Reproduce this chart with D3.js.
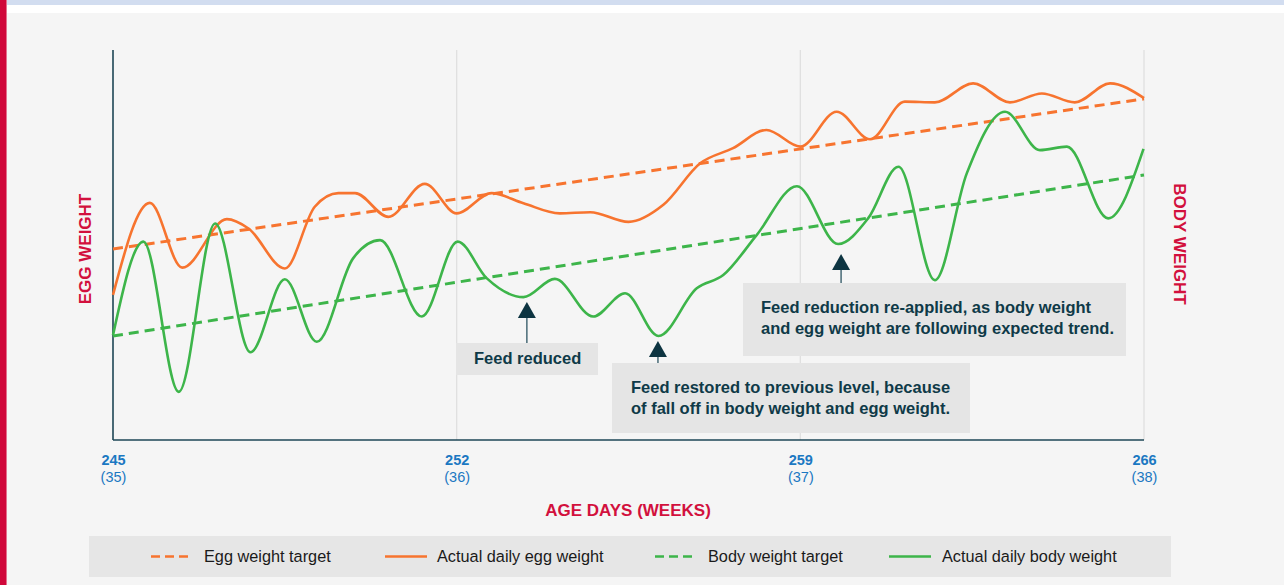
<!DOCTYPE html>
<html>
<head>
<meta charset="utf-8">
<script src="https://cdn.jsdelivr.net/npm/d3@7"></script>
<style>
  html, body { margin: 0; padding: 0; background: #ffffff; }
  svg { display: block; }
  text { font-family: "Liberation Sans", Arial, Helvetica, sans-serif; }
</style>
</head>
<body>
<svg id="chart" width="1287" height="585"></svg>
<script>
// Age in days (x) and relative weight index (y) for each series
const tickDays = [245, 252, 259, 266];

const eggTargetDays = [245, 266];
const eggTargetValues = [48.7, 87.4];

const bodyTargetDays = [245, 266];
const bodyTargetValues = [26.3, 67.8];

const eggDays = [245.0, 245.75, 246.41, 247.32, 247.76, 248.5, 249.11, 249.59, 249.93, 250.61,
  251.35, 252.0, 252.71, 253.36, 254.1, 254.72, 255.5, 256.21, 256.96, 257.63, 258.31, 259.0,
  259.74, 260.42, 261.13, 261.74, 262.52, 263.27, 263.92, 264.59, 265.31, 266.0];
const eggValues = [36.9, 60.6, 43.9, 56.4, 54.0, 43.7, 59.6, 63.1, 63.1, 57.0,
  65.5, 57.9, 63.1, 60.5, 57.9, 58.2, 55.7, 60.1, 70.8, 74.7, 79.4, 75.1,
  84.1, 77.0, 86.7, 86.5, 91.4, 86.5, 88.8, 86.5, 91.4, 87.6];

const bodyDays = [245.0, 245.62, 246.34, 247.08, 247.8, 248.5, 249.15, 249.89, 250.44, 251.29,
  252.02, 252.61, 253.36, 254.0, 254.78, 255.43, 256.11, 256.89, 257.43, 258.11, 258.93,
  259.77, 260.38, 261.0, 261.74, 262.39, 263.17, 263.88, 264.43, 265.27, 265.99];
const bodyValues = [26.5, 50.6, 11.9, 55.3, 22.1, 40.9, 24.8, 46.3, 51.0, 31.3,
  50.6, 41.2, 36.3, 41.0, 31.3, 37.3, 26.3, 38.6, 42.0, 52.3, 64.9,
  50.0, 56.6, 69.9, 40.7, 68.2, 84.1, 74.2, 75.1, 56.6, 74.5];

const seriesNames = ["Egg weight target", "Actual daily egg weight", "Body weight target", "Actual daily body weight"];

// callouts: arrow tip position (day, value) and text lines
const annotations = [
  { day: 253.43, value: 35.05, lines: ["Feed reduced"] },
  { day: 256.1, value: 25.0, lines: ["Feed restored to previous level, because", "of fall off in body weight and egg weight."] },
  { day: 259.83, value: 47.4, lines: ["Feed reduction re-applied, as body weight", "and egg weight are following expected trend."] }
];

const ORANGE = "#f7742f";
const GREEN = "#3db54a";
const CRIMSON = "#d2103d";
const BLUE = "#1b78c2";
const INK = "#0f3a48";

const svg = d3.select("#chart");

// page frame
svg.append("rect").attr("x", 0).attr("y", 0).attr("width", 1287).attr("height", 585).attr("fill", "#ffffff");
svg.append("rect").attr("x", 0).attr("y", 0).attr("width", 1284).attr("height", 5).attr("fill", "#d2ddf0");
svg.append("rect").attr("x", 6).attr("y", 13).attr("width", 1278).attr("height", 572).attr("fill", "#f5f5f5");
svg.append("rect").attr("x", 0).attr("y", 0).attr("width", 6).attr("height", 585).attr("fill", "#d0073a");
svg.append("rect").attr("x", 6).attr("y", 0).attr("width", 1).attr("height", 585).attr("fill", "#e4718e");

const plotLeft = 113, plotRight = 1144, plotTop = 50, plotBottom = 440;

const x = d3.scaleLinear().domain([245, 266]).range([plotLeft, plotRight]);
const y = d3.scaleLinear().domain([0, 100]).range([438, 50]);

// vertical grid lines
svg.append("g").selectAll("line")
  .data(tickDays.slice(1))
  .join("line")
  .attr("x1", d => x(d)).attr("x2", d => x(d))
  .attr("y1", plotTop).attr("y2", plotBottom)
  .attr("stroke", "#dedede").attr("stroke-width", 1.2);

// left axis and baseline
svg.append("line").attr("x1", plotLeft).attr("x2", plotLeft).attr("y1", plotTop).attr("y2", plotBottom)
  .attr("stroke", "#1d4656").attr("stroke-width", 1.6);
svg.append("line").attr("x1", plotLeft).attr("x2", plotRight).attr("y1", plotBottom).attr("y2", plotBottom)
  .attr("stroke", "#1d4656").attr("stroke-width", 1.6);

// x axis tick labels: day on top, week below
const xAxis = d3.axisBottom(x).tickValues(tickDays).tickSize(0).tickFormat("");
const gx = svg.append("g").attr("transform", `translate(0,${plotBottom})`).call(xAxis);
gx.select(".domain").remove();
gx.selectAll(".tick").each(function(d) {
  const t = d3.select(this).append("text").attr("text-anchor", "middle").attr("fill", BLUE).attr("font-size", 14.5);
  t.append("tspan").attr("x", 0).attr("y", 25).attr("font-weight", "bold").text(d);
  t.append("tspan").attr("x", 0).attr("y", 42).text(`(${d / 7})`);
});

// axis titles
svg.append("text").attr("x", 628).attr("y", 516).attr("text-anchor", "middle")
  .attr("fill", CRIMSON).attr("font-size", 17).attr("font-weight", "bold").text("AGE DAYS (WEEKS)");
svg.append("text").attr("transform", "translate(91,249) rotate(-90)").attr("text-anchor", "middle")
  .attr("fill", CRIMSON).attr("font-size", 17).attr("font-weight", "bold").text("EGG WEIGHT");
svg.append("text").attr("transform", "translate(1174,244) rotate(90)").attr("text-anchor", "middle")
  .attr("fill", CRIMSON).attr("font-size", 17).attr("font-weight", "bold").text("BODY WEIGHT");

// series lines
const line = d3.line().x(d => x(d[0])).y(d => y(d[1]));
const smooth = d3.line().x(d => x(d[0])).y(d => y(d[1])).curve(d3.curveMonotoneX);
const zip = (a, b) => a.map((v, i) => [v, b[i]]);

const g = svg.append("g").attr("fill", "none");
g.append("path").datum(zip(bodyTargetDays, bodyTargetValues)).attr("d", line)
  .attr("stroke", GREEN).attr("stroke-width", 3).attr("stroke-dasharray", "10,6");
g.append("path").datum(zip(eggTargetDays, eggTargetValues)).attr("d", line)
  .attr("stroke", ORANGE).attr("stroke-width", 3).attr("stroke-dasharray", "10,6");
g.append("path").datum(zip(eggDays, eggValues)).attr("d", smooth)
  .attr("stroke", ORANGE).attr("stroke-width", 2.6).attr("stroke-linejoin", "round");
g.append("path").datum(zip(bodyDays, bodyValues)).attr("d", smooth)
  .attr("stroke", GREEN).attr("stroke-width", 2.6).attr("stroke-linejoin", "round");

// annotation callouts: arrow pointing at the curve, text box below
const boxes = [
  { x0: 456, y0: 343, w: 142, h: 32, tx: 474, ty: 364 },
  { x0: 612, y0: 363, w: 358, h: 70, tx: 631, ty: 393 },
  { x0: 743, y0: 283, w: 383, h: 73, tx: 761, ty: 313 }
];
annotations.forEach((a, i) => {
  const b = boxes[i];
  const ax = x(a.day), tipY = y(a.value);
  svg.append("line").attr("x1", ax).attr("x2", ax).attr("y1", tipY + 14).attr("y2", b.y0)
    .attr("stroke", "#3a5f6c").attr("stroke-width", 1.4);
  svg.append("path").attr("d", `M${ax},${tipY} L${ax - 9},${tipY + 16} L${ax + 9},${tipY + 16} Z`)
    .attr("fill", "#0d3441");
  svg.append("rect").attr("x", b.x0).attr("y", b.y0).attr("width", b.w).attr("height", b.h).attr("fill", "#e5e5e5");
  const t = svg.append("text").attr("fill", INK).attr("font-size", 16.5).attr("font-weight", "bold");
  a.lines.forEach((s, k) => t.append("tspan").attr("x", b.tx).attr("y", b.ty + k * 21).text(s));
});

// legend
svg.append("rect").attr("x", 89).attr("y", 536).attr("width", 1082).attr("height", 41).attr("fill", "#e6e6e6");
const legendItems = [
  { name: seriesNames[0], color: ORANGE, dash: "9,5", x0: 151, tx: 204 },
  { name: seriesNames[1], color: ORANGE, dash: null, x0: 385, tx: 437 },
  { name: seriesNames[2], color: GREEN, dash: "9,5", x0: 655, tx: 708 },
  { name: seriesNames[3], color: GREEN, dash: null, x0: 889, tx: 942 }
];
const lg = svg.append("g");
legendItems.forEach(it => {
  lg.append("line").attr("x1", it.x0).attr("x2", it.x0 + 42).attr("y1", 556.5).attr("y2", 556.5)
    .attr("stroke", it.color).attr("stroke-width", 2.6).attr("stroke-dasharray", it.dash);
  lg.append("text").attr("x", it.tx).attr("y", 562).attr("fill", "#1a1a1a").attr("font-size", 16.3).text(it.name);
});
</script>
</body>
</html>
